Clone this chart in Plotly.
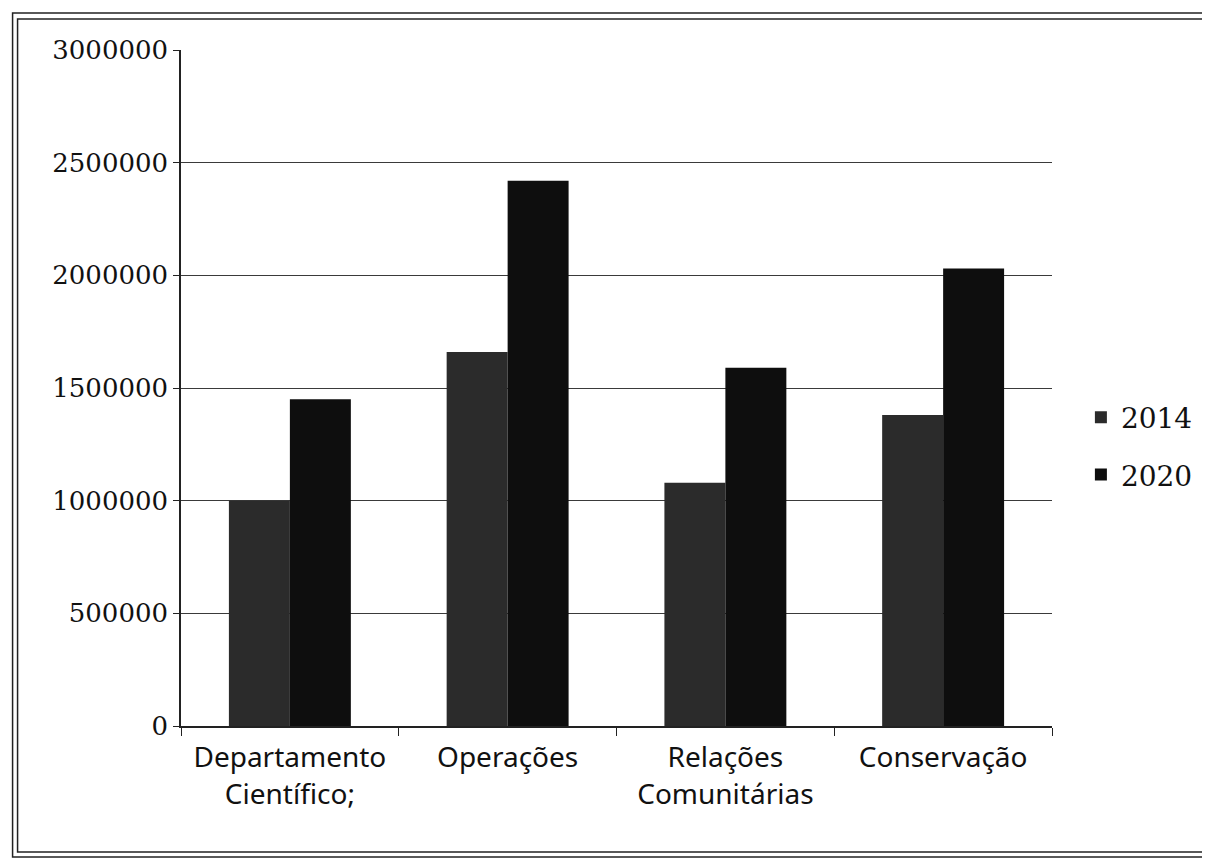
import plotly.graph_objects as go

categories = ["Departamento<br>Científico;", "Operações", "Relações<br>Comunitárias", "Conservação"]
series_names = ["2014", "2020"]
values_2014 = [1000000, 1660000, 1080000, 1380000]
values_2020 = [1450000, 2420000, 1590000, 2030000]
y_ticks = [0, 500000, 1000000, 1500000, 2000000, 2500000, 3000000]
y_ticklabels = [str(v) for v in y_ticks]

OFF = 8  # page body margin
W, H = 1210 - OFF, 863 - OFF
L, T = 181 - OFF, 50 - OFF
R = W - (1055 - OFF)
B = H - (726 - OFF)
pw, ph = W - L - R, H - T - B

def px_to_paper(x, y):
    return (x - OFF - L) / pw, (H - B - (y - OFF)) / ph

fig = go.Figure()
fig.add_trace(go.Bar(name=series_names[0], x=categories, y=values_2014, legendgroup="a",
                     marker=dict(color="#2b2b2b", line=dict(width=0))))
fig.add_trace(go.Bar(name=series_names[1], x=categories, y=values_2020, legendgroup="b",
                     marker=dict(color="#0e0e0e", line=dict(width=0))))

shapes = []
for (x0, y0, x1, y1) in [(12, 13, 1209, 857), (17, 19, 1209, 852)]:
    a0, b1 = px_to_paper(x0, y0)
    a1, b0 = px_to_paper(x1, y1)
    shapes.append(dict(type="rect", xref="paper", yref="paper", x0=a0, x1=a1, y0=b0, y1=b1,
                       line=dict(color="#222", width=1.5), layer="below"))

lx, ly = px_to_paper(1084, 446)

fig.update_layout(
    width=W, height=H,
    margin=dict(l=L, r=R, t=T, b=B),
    paper_bgcolor="white", plot_bgcolor="white",
    barmode="group", bargap=0.44, bargroupgap=0,
    showlegend=True,
    legend=dict(x=lx, y=ly, xanchor="left", yanchor="middle",
                font=dict(family="DejaVu Serif", size=28, color="#111"),
                traceorder="grouped", tracegroupgap=18, itemwidth=30),
    shapes=shapes,
    xaxis=dict(showgrid=False, showline=True, linecolor="#222", linewidth=1.5,
               ticks="outside", tickson="boundaries", ticklen=8, tickcolor="#222",
               tickfont=dict(family="Noto Sans", size=28, color="#111"),
               ticklabelstandoff=6,
               range=[-0.5, 3.5]),
    yaxis=dict(range=[0, 3000000], tickvals=y_ticks, ticktext=y_ticklabels,
               showgrid=True, gridcolor="#3a3a3a", gridwidth=1,
               showline=True, linecolor="#222", linewidth=1.5,
               ticks="outside", ticklen=6, tickcolor="#222",
               tickfont=dict(family="DejaVu Serif", size=26, color="#111"),
               zeroline=False),
)

fig.write_html("out.html")
